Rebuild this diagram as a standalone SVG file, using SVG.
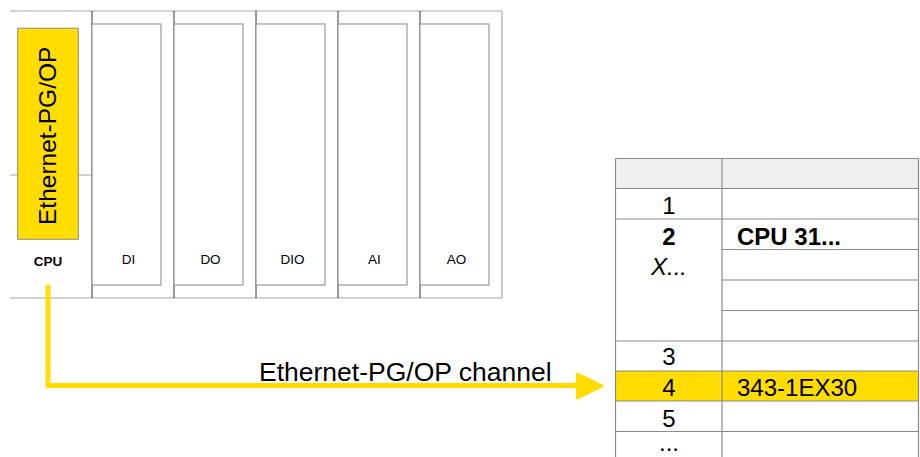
<svg xmlns="http://www.w3.org/2000/svg" width="920" height="457" viewBox="0 0 920 457">
<style>
text{font-family:"Liberation Sans",Arial,sans-serif;fill:#000}
.frame{stroke:#a8a8a8;stroke-width:1.2;fill:none}
.div{stroke:#333;stroke-width:1;fill:none}
.inner{stroke:#999;stroke-width:1.2;fill:#fff}
.mod{font-size:13.5px;text-anchor:middle}
.tl{stroke:#8a8a8a;stroke-width:1.2;fill:none}
.tt{font-size:24px}
.c{text-anchor:middle}
.yel{fill:#FFDD00;stroke:#FFDD00}
</style>
<g id="rack">
<rect x="10" y="11" width="492" height="287" fill="#fff" stroke="none"/>
<line class="frame" x1="10" y1="11" x2="502" y2="11"/>
<line class="frame" x1="10" y1="298" x2="502" y2="298"/>
<line class="frame" x1="502" y1="11" x2="502" y2="298"/>
</g>
<g id="cpu">
<line class="frame" x1="10" y1="175" x2="92" y2="175"/>
<rect x="17.7" y="28.3" width="60.6" height="211" fill="#FFDD00" stroke="#a09a80" stroke-width="1.2"/>
<text transform="translate(55.5,225) rotate(-90)" font-size="24.5">Ethernet-PG/OP</text>
<text x="48" y="266" font-size="13.5" font-weight="bold" text-anchor="middle">CPU</text>
</g>
<g id="di">
<line class="div" x1="92" y1="11" x2="92" y2="298"/>
<rect class="inner" x="92" y="24" width="69" height="261"/>
<text class="mod" x="128.5" y="264">DI</text>
</g>
<g id="do">
<line class="div" x1="174" y1="11" x2="174" y2="298"/>
<rect class="inner" x="174" y="24" width="69" height="261"/>
<text class="mod" x="210.5" y="264">DO</text>
</g>
<g id="dio">
<line class="div" x1="256" y1="11" x2="256" y2="298"/>
<rect class="inner" x="256" y="24" width="69" height="261"/>
<text class="mod" x="292.5" y="264">DIO</text>
</g>
<g id="ai">
<line class="div" x1="338" y1="11" x2="338" y2="298"/>
<rect class="inner" x="338" y="24" width="69" height="261"/>
<text class="mod" x="374.5" y="264">AI</text>
</g>
<g id="ao">
<line class="div" x1="420" y1="11" x2="420" y2="298"/>
<rect class="inner" x="420" y="24" width="69" height="261"/>
<text class="mod" x="456.5" y="264">AO</text>
</g>
<g id="table">
<rect x="615.5" y="158.5" width="303" height="30" fill="#efefef" stroke="none"/>
<rect x="615.5" y="371" width="303" height="30" fill="#FFDD00" stroke="none"/>
<line class="tl" x1="615.5" y1="158.5" x2="918.5" y2="158.5"/>
<line class="tl" x1="615.5" y1="188.5" x2="918.5" y2="188.5"/>
<line class="tl" x1="615.5" y1="219" x2="918.5" y2="219"/>
<line class="tl" x1="722" y1="249.5" x2="918.5" y2="249.5"/>
<line class="tl" x1="722" y1="280" x2="918.5" y2="280"/>
<line class="tl" x1="722" y1="310.5" x2="918.5" y2="310.5"/>
<line class="tl" x1="615.5" y1="341" x2="918.5" y2="341"/>
<line class="tl" x1="615.5" y1="371" x2="918.5" y2="371"/>
<line class="tl" x1="615.5" y1="401" x2="918.5" y2="401"/>
<line class="tl" x1="615.5" y1="431.5" x2="918.5" y2="431.5"/>
<line class="tl" x1="615.5" y1="158.5" x2="615.5" y2="457"/>
<line class="tl" x1="722" y1="158.5" x2="722" y2="457"/>
<line class="tl" x1="918.5" y1="158.5" x2="918.5" y2="457"/>
<text class="tt c" x="669" y="214">1</text>
<text class="tt c" x="669" y="244.5" font-weight="bold">2</text>
<text class="tt c" x="669" y="275" font-style="italic">X...</text>
<text class="tt c" x="669" y="365">3</text>
<text class="tt c" x="669" y="396">4</text>
<text class="tt c" x="669" y="426.5">5</text>
<text class="tt c" x="669" y="451">...</text>
<text class="tt" x="737" y="245" font-weight="bold">CPU 31...</text>
<text class="tt" x="737" y="396">343-1EX30</text>
</g>
<g id="connectors">
<path d="M48,285 V385.5 H579" fill="none" stroke="#FFDD00" stroke-width="5" stroke-linejoin="round"/>
<polygon class="yel" points="577.5,374 602,386 577.5,398" stroke-width="3" stroke-linejoin="round"/>
<text x="259" y="381" font-size="26.5">Ethernet-PG/OP channel</text>
</g>
</svg>
